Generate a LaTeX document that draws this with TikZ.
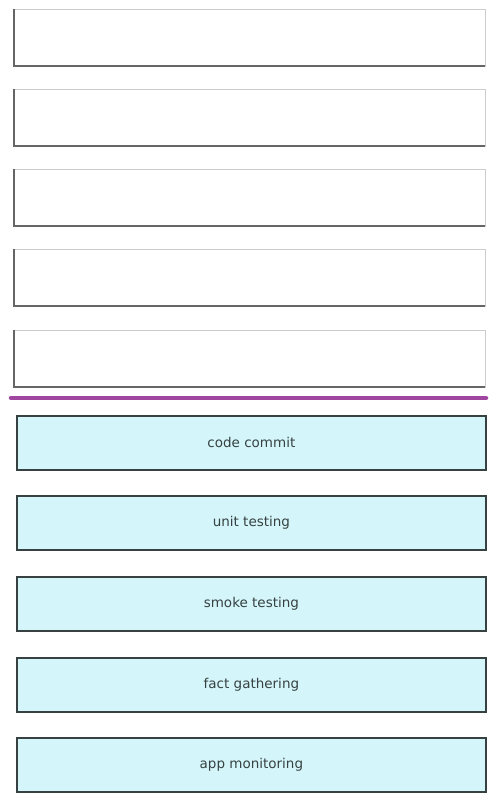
\documentclass[tikz,border=0pt]{standalone}
\usepackage{fontspec}
\setmainfont{DejaVu Sans}
\definecolor{stepfill}{RGB}{212,246,250}
\definecolor{stepedge}{RGB}{55,65,65}
\definecolor{steptext}{RGB}{55,65,65}
\definecolor{divider}{RGB}{160,70,160}
\begin{document}
\begin{tikzpicture}[x=1pt,y=-1pt,
  emptybox/.style={draw=gray!40,line width=0.8pt,fill=white},
  stepbox/.style={draw=stepedge,line width=1.8pt,fill=stepfill,
    minimum width=469pt,minimum height=54pt,inner sep=0pt,
    font=\fontsize{13.5}{15}\selectfont,text=steptext,anchor=north west},
  shade/.style={draw=black!60,line width=1.3pt}]
\useasboundingbox (0,0) rectangle (500,806);
\fill[white] (0,0) rectangle (500,806);
\foreach \i/\y in {1/9,2/89,3/169,4/249,5/330}{
  \draw[emptybox] (14,\y) rectangle (485,\y+57);
  \draw[shade] (14,\y) -- (14,\y+57) -- (485,\y+57);
  \coordinate (slot\i) at (249.5,\y+28.5);
}
\coordinate (lineL) at (11,398);
\coordinate (lineR) at (486,398);
\draw[line width=4.5pt,color=divider,line cap=round] (lineL) -- (lineR);
\node[stepbox] (s1) at (16,415) {code commit};
\node[stepbox] (s2) at (16,495) {unit testing};
\node[stepbox] (s3) at (16,576) {smoke testing};
\node[stepbox] (s4) at (16,657) {fact gathering};
\node[stepbox] (s5) at (16,737) {app monitoring};
\end{tikzpicture}
\end{document}
